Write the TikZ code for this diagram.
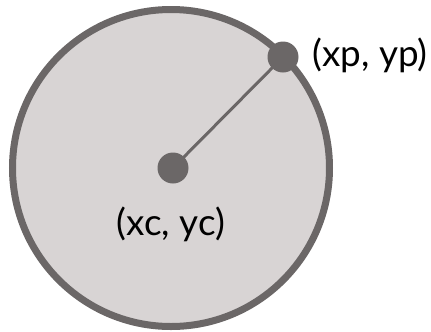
\documentclass[tikz,border=0pt]{standalone}
\usepackage{fontspec}
\setmainfont{Lato}
\definecolor{ringgray}{HTML}{6B6767}
\definecolor{fillgray}{HTML}{D8D4D4}
\begin{document}
\begin{tikzpicture}[x=1bp,y=-1bp,
  dot/.style={circle,fill=ringgray,inner sep=0pt,minimum size=31bp},
  lbl/.style={font=\fontsize{37}{40}\selectfont,text=black,inner sep=0pt}]
\useasboundingbox (0,0) rectangle (431,332);
\node[circle,draw=ringgray,line width=7bp,fill=fillgray,inner sep=0pt,minimum size=317bp] (ring) at (171,168) {};
\node[dot] (c) at (173,168) {};
\node[dot] (p) at (283,57) {};
\draw[ringgray,line width=3bp] (c.center) -- (p.center);
\node[lbl] (lp) at (370,55) {(xp, yp)};
\node[lbl] (lc) at (171,224) {(xc, yc)};
\end{tikzpicture}
\end{document}
